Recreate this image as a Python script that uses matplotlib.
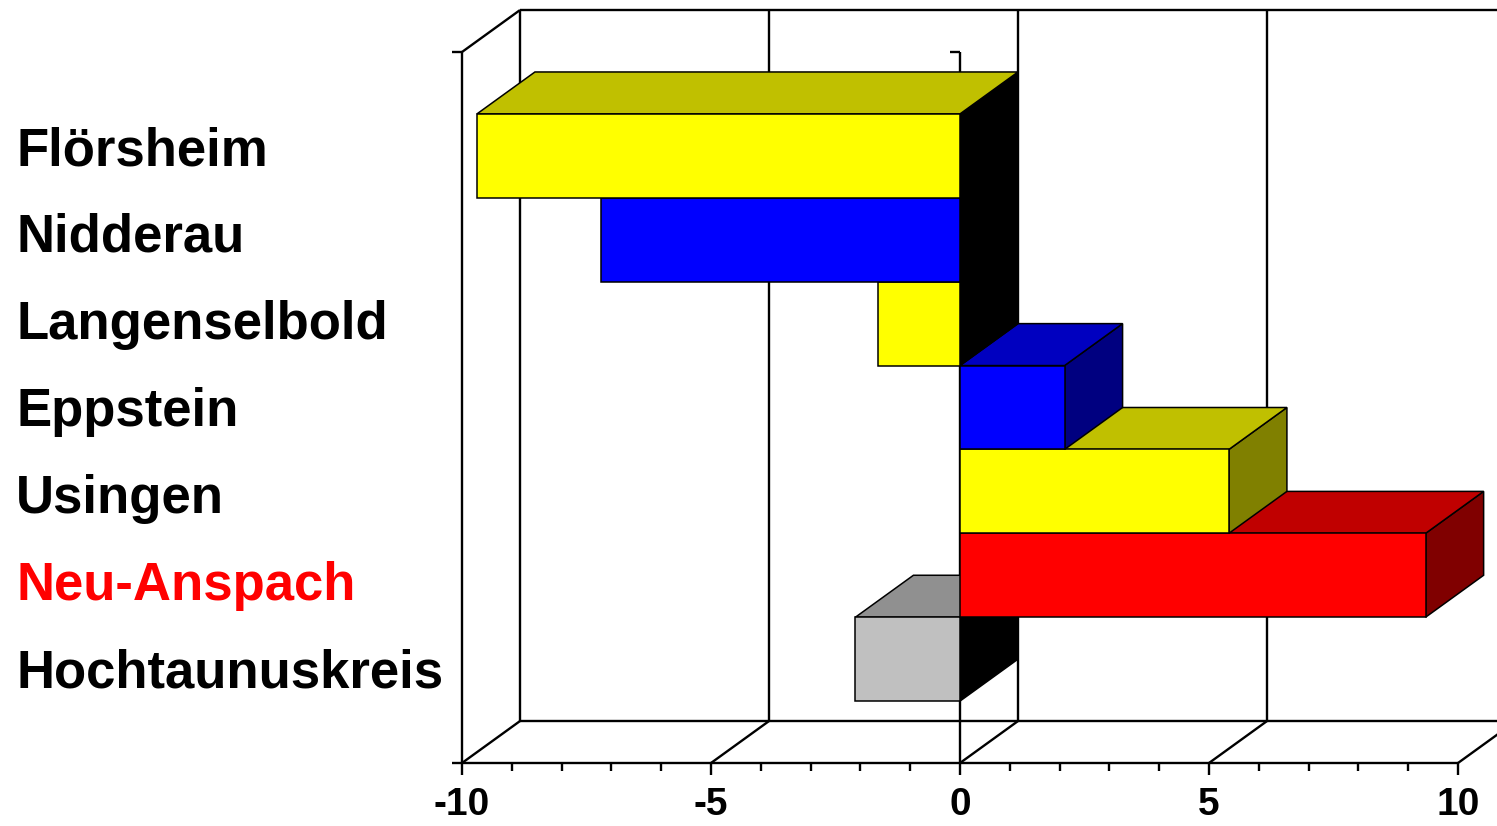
import matplotlib
matplotlib.use("Agg")
import matplotlib.pyplot as plt
from matplotlib.patches import Polygon, Rectangle

plt.rcParams['font.family'] = ['Liberation Sans', 'DejaVu Sans']

# top to bottom as listed on the left
places = ['Flörsheim', 'Nidderau', 'Langenselbold', 'Eppstein', 'Usingen',
          'Neu-Anspach', 'Hochtaunuskreis']
change = [-9.7, -7.2, -1.65, 2.1, 5.4, 9.35, -2.1]

front_col = ['#FFFF00', '#0000FF', '#FFFF00', '#0000FF', '#FFFF00', '#FF0000', '#C0C0C0']
top_col = ['#C0C000', '#0000C0', '#C0C000', '#0000C0', '#C0C000', '#C00000', '#909090']
side_col = ['#808000', '#000080', '#808000', '#000080', '#808000', '#800000', '#606060']
label_col = ['black'] * 5 + ['#FF0000', 'black']

W, H = 1497, 826
fig = plt.figure(figsize=(W / 100, H / 100), dpi=100)
ax = fig.add_axes([462 / W, 63 / H, 996 / W, 711 / H])

n = len(places)
y0, y1 = -0.5 - 62 / 84, n - 0.5 + 62 / 84
ax.set_xlim(-10, 10)
ax.set_ylim(y0, y1)
for s in ax.spines.values():
    s.set_visible(False)

# depth offset of the back wall (data units)
dx = 58 / 49.8
dy = 0.5
lw = 1.7
tk = 10 / 49.8  # short tick length in x units

line = dict(color='black', lw=lw, clip_on=False, solid_capstyle='butt', zorder=1)

# back wall gridlines
for g in [-10, -5, 0, 5]:
    ax.plot([g + dx, g + dx], [y0 + dy, y1 + dy], **line)
ax.plot([-10 + dx, 12], [y1 + dy, y1 + dy], **line)
ax.plot([-10 + dx, 12], [y0 + dy, y0 + dy], **line)

# floor diagonals
for g in [-10, -5, 0, 5, 10]:
    ax.plot([g, g + dx], [y0, y0 + dy], **line)

# left wall and zero line on the front plane
ax.plot([-10, -10], [y0, y1], **line)
ax.plot([-10, -10 + dx], [y1, y1 + dy], **line)
ax.plot([-10 - tk, -10], [y1, y1], **line)
ax.plot([0, 0], [y0, y1], **line)
ax.plot([-tk, 0], [y1, y1], **line)
ax.plot([-10 - tk, 10], [y0, y0], **line)

# bars, drawn bottom row first so upper rows overlap correctly
edge = dict(edgecolor='black', lw=1.1, joinstyle='miter', clip_on=False)
for i in reversed(range(n)):
    v = change[i]
    c = n - 1 - i
    lo, hi = min(0, v), max(0, v)
    b, t = c - 0.5, c + 0.5
    sc = 'black' if v < 0 else side_col[i]
    ax.add_patch(Polygon([(hi, b), (hi + dx, b + dy), (hi + dx, t + dy), (hi, t)],
                         facecolor=sc, zorder=2 + 3 * (n - i), **edge))
    ax.add_patch(Polygon([(lo, t), (hi, t), (hi + dx, t + dy), (lo + dx, t + dy)],
                         facecolor=top_col[i], zorder=2 + 3 * (n - i) + 1, **edge))
    ax.add_patch(Rectangle((lo, b), hi - lo, 1, facecolor=front_col[i],
                           zorder=2 + 3 * (n - i) + 2, **edge))

# category labels
for i, name in enumerate(places):
    fig.text(16 / W, (H - 165 - 87 * i) / H, name, fontsize=38, fontweight='bold',
             color=label_col[i], va='baseline', ha='left')

ax.set_yticks([])
ax.set_xticks([-10, -5, 0, 5, 10])
ax.set_xticks(range(-10, 11), minor=True)
ax.set_xticklabels(['-10', '-5', '0', '5', '10'], fontsize=28, fontweight='bold')
ax.tick_params(axis='x', which='major', direction='out', length=8.5, width=lw, pad=9)
ax.tick_params(axis='x', which='minor', direction='out', length=5.5, width=lw)

fig.savefig('out.png', dpi=100)
